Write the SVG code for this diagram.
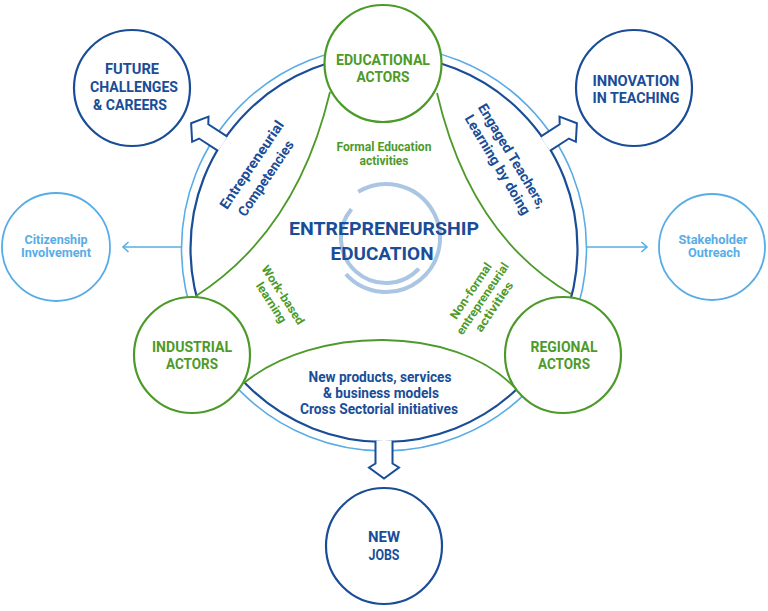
<svg xmlns="http://www.w3.org/2000/svg" width="768" height="611" viewBox="0 0 768 611">
<defs>
<style>
.t{font-family:Roboto,"Liberation Sans",sans-serif;font-weight:700;text-anchor:middle}
.dk{fill:#1a4d97}.gr{fill:#4d9a2a}.lt{fill:#58ade6}
.ring-d{fill:none;stroke:#1a4d97;stroke-width:2.2}
.ring-l{fill:none;stroke:#58ade6;stroke-width:1.6}
.g{fill:none;stroke:#4d9a2a;stroke-width:1.8}
.actor{fill:#fff;stroke:#4d9a2a;stroke-width:2.2}
.outn{fill:#fff;stroke:#1a4d97;stroke-width:2.2}
.outl{fill:#fff;stroke:#58ade6;stroke-width:1.8}
.arr{fill:#fff;stroke:#1a4d97;stroke-width:2;stroke-linejoin:miter}
.spiral{fill:none;stroke:#aac6e3;stroke-width:4}
</style>
<path id="blockArrow" d="M -8.5,192.3 L -8.5,215 L -15,219 L 0,230 L 15,219 L 8.5,215 L 8.5,192.3"/>
</defs>
<rect width="768" height="611" fill="#fff"/>

<g id="rings">
<circle class="ring-l" cx="384" cy="248.5" r="202.5"/>
<circle class="ring-d" cx="384" cy="248.5" r="193.5"/>
</g>

<g id="spiral">
<path class="spiral" d="M 358.2,191.7 A 54 54 0 1 1 345.9,274.1"/>
<path class="spiral" d="M 418.9,268.7 A 45 45 0 0 1 351.5,209.1"/>
</g>

<g id="connectors">
<path class="g" d="M 330,92 Q 297,231 196,296"/>
<path class="g" d="M 437,93 Q 470,235 571,294"/>
<path class="g" d="M 244,383 C 315,325 455,325 514,387"/>
<use href="#blockArrow" class="arr" transform="translate(384,248.5) rotate(123)"/>
<use href="#blockArrow" class="arr" transform="translate(384,248.5) rotate(-123)"/>
<use href="#blockArrow" class="arr" transform="translate(384,248.5)"/>
<g fill="none" stroke="#58ade6" stroke-width="1.6">
<line x1="181.5" y1="247" x2="123" y2="247"/>
<polyline points="128.5,242 123,247 128.5,252"/>
<line x1="586.5" y1="247" x2="647" y2="247"/>
<polyline points="641.5,242 647,247 641.5,252"/>
</g>
</g>

<g id="educational">
<circle class="actor" cx="383" cy="63.5" r="58.5"/>
<text class="t gr" x="383" y="64.5" font-size="15" textLength="94" lengthAdjust="spacingAndGlyphs">EDUCATIONAL</text>
<text class="t gr" x="383" y="81.5" font-size="15" textLength="53" lengthAdjust="spacingAndGlyphs">ACTORS</text>
</g>
<g id="industrial">
<circle class="actor" cx="192" cy="355" r="58"/>
<text class="t gr" x="192" y="351.5" font-size="14.5" textLength="80" lengthAdjust="spacingAndGlyphs">INDUSTRIAL</text>
<text class="t gr" x="192" y="368.5" font-size="14.5" textLength="52" lengthAdjust="spacingAndGlyphs">ACTORS</text>
</g>
<g id="regional">
<circle class="actor" cx="563" cy="355" r="58"/>
<text class="t gr" x="564" y="351.5" font-size="14.5" textLength="67" lengthAdjust="spacingAndGlyphs">REGIONAL</text>
<text class="t gr" x="564" y="368.5" font-size="14.5" textLength="52" lengthAdjust="spacingAndGlyphs">ACTORS</text>
</g>
<g id="future">
<circle class="outn" cx="132" cy="88" r="58"/>
<text class="t dk" x="132" y="74" font-size="15" textLength="54" lengthAdjust="spacingAndGlyphs">FUTURE</text>
<text class="t dk" x="134" y="92" font-size="15" textLength="88" lengthAdjust="spacingAndGlyphs">CHALLENGES</text>
<text class="t dk" x="130" y="110" font-size="15" textLength="74" lengthAdjust="spacingAndGlyphs">&amp; CAREERS</text>
</g>
<g id="innovation">
<circle class="outn" cx="634" cy="88" r="58"/>
<text class="t dk" x="636" y="86" font-size="15" textLength="87" lengthAdjust="spacingAndGlyphs">INNOVATION</text>
<text class="t dk" x="636" y="103" font-size="15" textLength="87" lengthAdjust="spacingAndGlyphs">IN TEACHING</text>
</g>
<g id="newjobs">
<circle class="outn" cx="384" cy="546" r="58"/>
<text class="t dk" x="384" y="542" font-size="15" textLength="32" lengthAdjust="spacingAndGlyphs">NEW</text>
<text class="t dk" x="384" y="560" font-size="15" textLength="31" lengthAdjust="spacingAndGlyphs">JOBS</text>
</g>
<g id="citizenship">
<circle class="outl" cx="56" cy="247" r="54"/>
<text class="t lt" x="56" y="244" font-size="12" textLength="63" lengthAdjust="spacingAndGlyphs">Citizenship</text>
<text class="t lt" x="56" y="257" font-size="12" textLength="70" lengthAdjust="spacingAndGlyphs">Involvement</text>
</g>
<g id="stakeholder">
<circle class="outl" cx="712" cy="247" r="53"/>
<text class="t lt" x="713" y="244" font-size="12" textLength="69" lengthAdjust="spacingAndGlyphs">Stakeholder</text>
<text class="t lt" x="714" y="257" font-size="12" textLength="52" lengthAdjust="spacingAndGlyphs">Outreach</text>
</g>

<g id="center-title">
<text class="t dk" x="384" y="235" font-size="19" textLength="190" lengthAdjust="spacingAndGlyphs">ENTREPRENEURSHIP</text>
<text class="t dk" x="382" y="260" font-size="19" textLength="103" lengthAdjust="spacingAndGlyphs">EDUCATION</text>
</g>

<g id="labels">
<text class="t gr" x="384" y="151" font-size="12.5" font-weight="600" textLength="95" lengthAdjust="spacingAndGlyphs">Formal Education</text>
<text class="t gr" x="384" y="165" font-size="12.5" textLength="49" lengthAdjust="spacingAndGlyphs">activities</text>
<text class="t dk" x="380" y="382" font-size="14" textLength="143" lengthAdjust="spacingAndGlyphs">New products, services</text>
<text class="t dk" x="381" y="398" font-size="14" textLength="116" lengthAdjust="spacingAndGlyphs">&amp; business models</text>
<text class="t dk" x="379" y="414" font-size="14" textLength="158" lengthAdjust="spacingAndGlyphs">Cross Sectorial initiatives</text>
<text class="t dk" font-size="14" textLength="103" lengthAdjust="spacingAndGlyphs" transform="translate(255.7,167.5) rotate(-56)">Entrepreneurial</text>
<text class="t dk" font-size="14" textLength="88" lengthAdjust="spacingAndGlyphs" transform="translate(269.8,181) rotate(-56)">Competencies</text>
<text class="t dk" font-size="14" textLength="119" lengthAdjust="spacingAndGlyphs" transform="translate(508.1,158.3) rotate(59)">Engaged Teachers,</text>
<text class="t dk" font-size="14" textLength="114" lengthAdjust="spacingAndGlyphs" transform="translate(493.5,167.1) rotate(59)">Learning by doing</text>
<text class="t gr" font-size="12" textLength="68" lengthAdjust="spacingAndGlyphs" transform="translate(279.6,297.2) rotate(57)">Work-based</text>
<text class="t gr" font-size="12" textLength="46" lengthAdjust="spacingAndGlyphs" transform="translate(267.9,304.8) rotate(57)">learning</text>
<text class="t gr" font-size="12" textLength="65" lengthAdjust="spacingAndGlyphs" transform="translate(474.3,293.2) rotate(-56)">Non-formal</text>
<text class="t gr" font-size="12" textLength="84" lengthAdjust="spacingAndGlyphs" transform="translate(485.9,301) rotate(-56)">entrepreneurial</text>
<text class="t gr" font-size="12" textLength="58" lengthAdjust="spacingAndGlyphs" transform="translate(497.5,308.9) rotate(-56)">activities</text>
</g>
</svg>
